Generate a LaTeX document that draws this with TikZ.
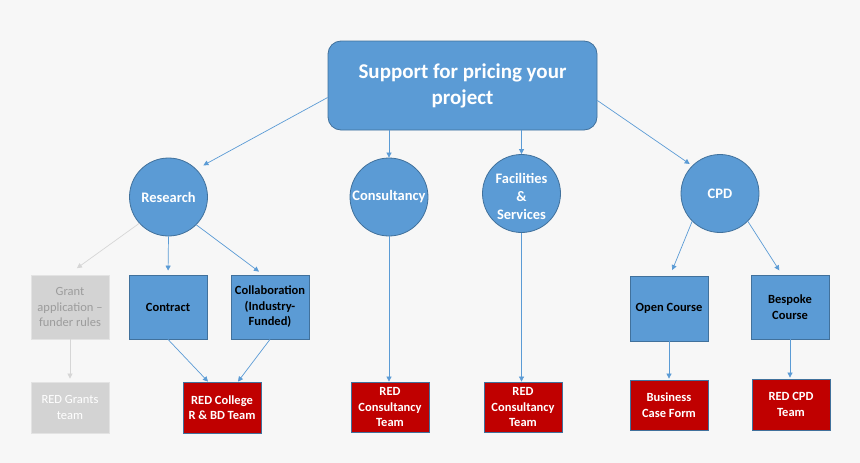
\documentclass[tikz,border=0pt]{standalone}
\usepackage{fontspec}
\setmainfont{Carlito}
\usetikzlibrary{arrows.meta}
\definecolor{bg}{HTML}{F7F7F7}
\definecolor{bluefill}{HTML}{5B9BD5}
\definecolor{blueedge}{HTML}{41719C}
\definecolor{redfill}{HTML}{C00000}
\definecolor{grayfill}{HTML}{D3D3D3}
\definecolor{grayedge}{HTML}{E3E3E3}
\definecolor{graytext}{HTML}{9C9C9C}
\definecolor{grayline}{HTML}{D6D6D6}
\tikzset{
  topbox/.style={draw=blueedge, line width=0.8pt, fill=bluefill, rounded corners=13pt,
    minimum width=269pt, minimum height=89pt, text=white, align=center,
    font=\fontsize{21}{26}\selectfont\bfseries},
  circtext/.style={text=white, align=center, inner sep=0pt,
    font=\fontsize{14.5}{18}\selectfont\bfseries},
  circ/.style={circle, draw=blueedge, line width=0.8pt, fill=bluefill, minimum size=78pt,
    circtext},
  bluebox/.style={draw=blueedge, line width=0.8pt, fill=bluefill, minimum width=78pt,
    minimum height=64pt, inner sep=1pt, text=black, align=center,
    font=\fontsize{12.5}{15.5}\selectfont\bfseries},
  redbox/.style={draw=blueedge, line width=0.8pt, fill=redfill, minimum width=78pt,
    minimum height=51pt, inner sep=1pt, text=white, align=center,
    font=\fontsize{12.5}{15.5}\selectfont\bfseries},
  graybox/.style={draw=grayedge, line width=0.8pt, fill=grayfill, minimum width=78pt,
    inner sep=1pt, align=center, font=\fontsize{12.5}{15.5}\selectfont},
  conn/.style={draw=bluefill, line width=0.7pt, -{Triangle[length=5pt,width=5pt]}},
  gconn/.style={draw=grayline, line width=0.7pt, -{Triangle[length=5pt,width=5pt]}},
}
\begin{document}
\begin{tikzpicture}[x=1pt,y=-1pt]
\fill[bg] (0,0) rectangle (860,463);
\useasboundingbox (0,0) rectangle (860,463);

\node[topbox] (top) at (462.5,85.5) {Support for pricing your\\project};

\node[circ] (res) at (168.5,197) {Research};
\node[circ] (cons) at (389,197) {Consultancy};
\node[circ] (fac) at (521.5,193.5) {};
\node[circtext] (factext) at ([yshift=-3pt]fac.center) {Facilities\\\&\\Services};
\node[circ] (cpd) at (720,193.5) {CPD};

\node[graybox, minimum height=64pt, text=graytext] (grant) at (70,307) {Grant\\application --\\funder rules};
\node[bluebox] (contract) at (168,307) {Contract};
\node[bluebox] (collab) at (270,307) {Collaboration\\(Industry-\\Funded)};
\node[bluebox, minimum height=65pt] (open) at (669,308.5) {Open Course};
\node[bluebox] (besp) at (790,307) {Bespoke\\Course};

\node[graybox, minimum height=51pt, text=white] (rgt) at (70,407.5) {RED Grants\\team};
\node[redbox] (rcb) at (222,407.5) {RED College\\R \& BD Team};
\node[redbox, minimum height=50pt] (rc1) at (390,407) {RED\\Consultancy\\Team};
\node[redbox, minimum height=50pt] (rc2) at (523,407) {RED\\Consultancy\\Team};
\node[redbox, minimum height=50pt] (bcf) at (669,405) {Business\\Case Form};
\node[redbox, minimum height=51pt] (rcpd) at (791,404.5) {RED CPD\\Team};

% top level connectors
\draw[conn, shorten >=8pt] ([yshift=-12pt]top.west) -- (res.45);
\draw[conn] (top.south -| cons.north) -- (cons.north);
\draw[conn] (top.south -| fac.north) -- (fac.north);
\draw[conn, shorten >=3pt] ([yshift=-15pt]top.east) -- (cpd.135);

% research
\draw[gconn, shorten >=11pt] (res.222) -- ([xshift=-2pt]grant.north);
\draw[conn, shorten >=4pt] (res.south) -- (contract.north);
\draw[conn, shorten >=5pt] (res.-45) -- ([xshift=-7pt]collab.north);
\draw[gconn, shorten >=3pt] (grant.south) -- (rgt.north);
\draw[conn] (contract.south) -- ([xshift=-14pt]rcb.north);
\draw[conn] (collab.south) -- ([xshift=16pt]rcb.north);

% consultancy, facilities
\draw[conn] (cons.south) -- (cons.south |- rc1.north);
\draw[conn] (fac.south) -- (fac.south |- rc2.north);

% cpd
\draw[conn, shorten >=6pt] (cpd.225) -- ([xshift=1pt]open.north);
\draw[conn, shorten >=5pt] (cpd.-45) -- ([xshift=-8pt]besp.north);
\draw[conn, shorten >=1pt] (open.south) -- (bcf.north);
\draw[conn, shorten >=1pt] (besp.south) -- (besp.south |- rcpd.north);
\end{tikzpicture}
\end{document}
